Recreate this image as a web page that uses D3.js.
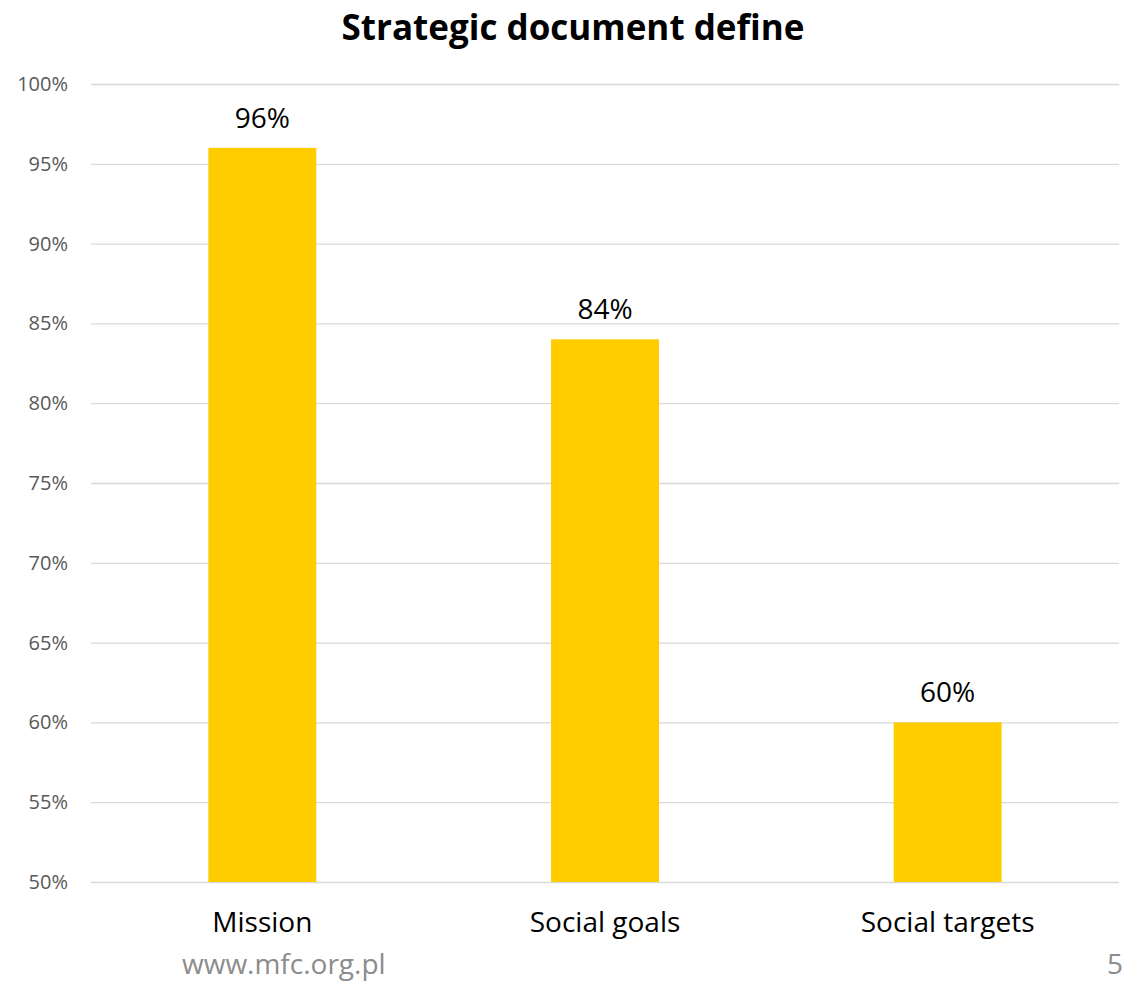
<!DOCTYPE html>
<html>
<head>
<meta charset="utf-8">
<script src="https://cdn.jsdelivr.net/npm/d3@7"></script>
<style>
  html, body { margin: 0; padding: 0; background: #fff; overflow: hidden; }
  svg { display: block; font-family: "Open Sans", "Noto Sans", sans-serif; }
</style>
</head>
<body>
<svg id="chart" width="1124" height="981"></svg>
<script>
// Share of institutions whose strategic document defines each item
const categories = ["Mission", "Social goals", "Social targets"];
const values = [0.96, 0.84, 0.60];
const yTicks = [0.50, 0.55, 0.60, 0.65, 0.70, 0.75, 0.80, 0.85, 0.90, 0.95, 1.00];

const svg = d3.select("#chart");
const margin = { left: 91, right: 5, top: 84, bottom: 99 };
const W = 1124, H = 981;

const x = d3.scaleBand()
  .domain(categories)
  .range([margin.left, W - margin.right])
  .paddingInner(0.685)
  .paddingOuter(0.3425);

const y = d3.scaleLinear()
  .domain([0.5, 1.0])
  .range([H - margin.bottom, margin.top]);

const pct = d3.format(".0%");

// Title
svg.append("text")
  .attr("x", 573).attr("y", 40)
  .attr("text-anchor", "middle")
  .attr("font-weight", "bold")
  .attr("font-size", 35)
  .attr("fill", "#000")
  .text("Strategic document define");

// Horizontal gridlines and y tick labels
const yAxis = d3.axisLeft(y)
  .tickValues(yTicks)
  .tickFormat(pct)
  .tickSize(-(W - margin.right - margin.left))
  .tickPadding(23);

const gy = svg.append("g")
  .attr("transform", `translate(${margin.left},0)`)
  .call(yAxis);
gy.select(".domain").remove();
gy.selectAll(".tick line").attr("stroke", "#d9d9d9").attr("stroke-width", 1.3);
gy.selectAll(".tick text")
  .attr("fill", "#595959")
  .attr("font-size", 20)
  .attr("font-family", "'Open Sans', sans-serif");

// Bars
svg.append("g").selectAll("rect")
  .data(values)
  .join("rect")
  .attr("x", (d, i) => x(categories[i]))
  .attr("y", d => y(d))
  .attr("width", x.bandwidth())
  .attr("height", d => y(0.5) - y(d))
  .attr("fill", "#ffcc00");

// Value labels
svg.append("g").selectAll("text")
  .data(values)
  .join("text")
  .attr("x", (d, i) => x(categories[i]) + x.bandwidth() / 2)
  .attr("y", d => y(d) - 20)
  .attr("text-anchor", "middle")
  .attr("font-size", 28)
  .attr("fill", "#000")
  .text(d => pct(d));

// Category labels
const xAxis = d3.axisBottom(x).tickSize(0).tickPadding(30);
const gx = svg.append("g")
  .attr("transform", `translate(0,${y(0.5)})`)
  .call(xAxis);
gx.select(".domain").remove();
gx.selectAll(".tick text")
  .attr("fill", "#000")
  .attr("font-size", 28)
  .attr("font-family", "'Open Sans', sans-serif");

// Footer
svg.append("text")
  .attr("x", 182).attr("y", 974)
  .attr("font-size", 28)
  .attr("fill", "#8c8c8c")
  .text("www.mfc.org.pl");

svg.append("text")
  .attr("x", 1107).attr("y", 974)
  .attr("font-size", 28)
  .attr("fill", "#8c8c8c")
  .text("5");
</script>
</body>
</html>
